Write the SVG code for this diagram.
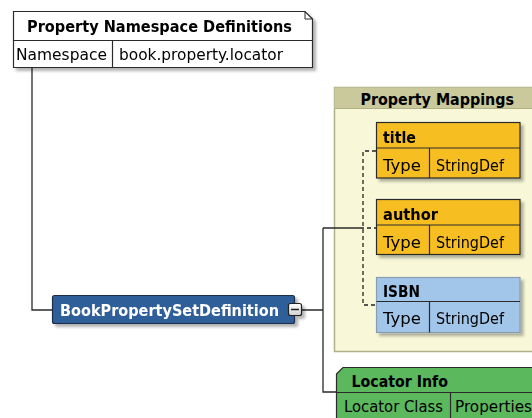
<svg xmlns="http://www.w3.org/2000/svg" width="532" height="418" viewBox="0 0 532 418">
<style>
text{font-family:"DejaVu Sans","Liberation Sans",sans-serif;fill:#000}
.b{font-weight:bold;font-size:15.5px}
.r{font-size:15px}
.box{stroke:#2a2a2a;stroke-width:1.2}
.conn{fill:none;stroke:#2a2a2a;stroke-width:1.3}
.dash{fill:none;stroke:#222;stroke-width:1.3;stroke-dasharray:4 3}
</style>
<defs>
<filter id="sh" x="-10%" y="-10%" width="130%" height="150%">
<feGaussianBlur in="SourceAlpha" stdDeviation="1.5"/>
<feOffset dx="3" dy="3" result="o"/>
<feComponentTransfer><feFuncA type="linear" slope="0.3"/></feComponentTransfer>
<feMerge><feMergeNode/><feMergeNode in="SourceGraphic"/></feMerge>
</filter>
<linearGradient id="mg" x1="0" y1="0" x2="0" y2="1"><stop offset="0" stop-color="#ffffff"/><stop offset="1" stop-color="#d0d0d0"/></linearGradient>
</defs>
<rect width="532" height="418" fill="#ffffff"/>

<g id="mappings">
<rect x="334.5" y="87.5" width="210" height="264" fill="#f8f8d8" stroke="#b0b088" stroke-width="1.5"/>
<rect x="334.5" y="87.5" width="210" height="21" fill="#c9c99b"/>
<line x1="334.5" y1="108.5" x2="544" y2="108.5" stroke="#b0b088"/>
<text class="b" x="360.5" y="105" textLength="153.5" lengthAdjust="spacingAndGlyphs">Property Mappings</text>
</g>

<g id="connectors">
<path class="conn" d="M32,67 V310 H52"/>
<path class="conn" d="M302,310 H323 M323,228 V392 H336 M323,228 H360"/>
<path class="dash" d="M376,151 H363 V305 H376 M360,228 H376"/>
</g>

<g id="nsdefs" filter="url(#sh)">
<path class="box" d="M13.5,11.5 H305 L312.5,19 V67.5 H13.5 Z" fill="#ffffff"/>
<path d="M305,11.5 V19 H312.5" fill="none" stroke="#2a2a2a" stroke-width="1"/>
<line x1="13.5" y1="40.5" x2="312.5" y2="40.5" stroke="#2a2a2a" stroke-width="1.2"/>
<line x1="112.5" y1="40.5" x2="112.5" y2="67.5" stroke="#2a2a2a" stroke-width="1.2"/>
<text class="b" x="27" y="32" textLength="265" lengthAdjust="spacingAndGlyphs">Property Namespace Definitions</text>
<text class="r" x="16" y="59.5" textLength="91" lengthAdjust="spacingAndGlyphs">Namespace</text>
<text class="r" x="119" y="59.5" textLength="164" lengthAdjust="spacingAndGlyphs">book.property.locator</text>
</g>

<g id="bookprop" filter="url(#sh)">
<rect x="52.5" y="295.5" width="242" height="28" rx="2" fill="#2f5f98" stroke="#1a2f4c" stroke-width="1.2"/>
<text class="b" x="60" y="316" textLength="219" lengthAdjust="spacingAndGlyphs" style="fill:#ffffff">BookPropertySetDefinition</text>
<rect x="288.5" y="303.5" width="13" height="12" rx="2" fill="url(#mg)" stroke="#222" stroke-width="1.2"/>
<line x1="291" y1="309.5" x2="299" y2="309.5" stroke="#222" stroke-width="1.5"/>
</g>

<g id="title" filter="url(#sh)">
<rect class="box" x="376.5" y="122.5" width="143.5" height="55.5" fill="#f7be20"/>
<line x1="376.5" y1="148" x2="520" y2="148" stroke="#2a2a2a" stroke-width="1.2"/>
<line x1="429.5" y1="148" x2="429.5" y2="178" stroke="#2a2a2a" stroke-width="1.2"/>
<text class="b" x="383" y="143" textLength="33" lengthAdjust="spacingAndGlyphs">title</text>
<text class="r" x="383" y="170.5" textLength="38" lengthAdjust="spacingAndGlyphs">Type</text>
<text class="r" x="436" y="170.5" textLength="68" lengthAdjust="spacingAndGlyphs">StringDef</text>
</g>

<g id="author" filter="url(#sh)">
<rect class="box" x="376.5" y="199.5" width="143.5" height="55" fill="#f7be20"/>
<line x1="376.5" y1="225" x2="520" y2="225" stroke="#2a2a2a" stroke-width="1.2"/>
<line x1="429.5" y1="225" x2="429.5" y2="254.5" stroke="#2a2a2a" stroke-width="1.2"/>
<text class="b" x="383" y="220" textLength="55" lengthAdjust="spacingAndGlyphs">author</text>
<text class="r" x="383" y="247.5" textLength="38" lengthAdjust="spacingAndGlyphs">Type</text>
<text class="r" x="436" y="247.5" textLength="68" lengthAdjust="spacingAndGlyphs">StringDef</text>
</g>

<g id="isbn" filter="url(#sh)">
<rect x="376.5" y="277.5" width="143.5" height="55" fill="#a2c6ea" stroke="#8a9cb0" stroke-width="1.2"/>
<line x1="376.5" y1="301.5" x2="520" y2="301.5" stroke="#2a2a2a" stroke-width="1.2"/>
<line x1="429.5" y1="301.5" x2="429.5" y2="332.5" stroke="#2a2a2a" stroke-width="1.2"/>
<text class="b" x="383" y="296.5" textLength="37" lengthAdjust="spacingAndGlyphs">ISBN</text>
<text class="r" x="383" y="324" textLength="38" lengthAdjust="spacingAndGlyphs">Type</text>
<text class="r" x="436" y="324" textLength="68" lengthAdjust="spacingAndGlyphs">StringDef</text>
</g>

<g id="locator">
<path d="M336.5,374 L343,367.5 H540 V430 H336.5 Z" fill="#5cb85c" stroke="#2a2a2a" stroke-width="1.2"/>
<line x1="336.5" y1="392.5" x2="540" y2="392.5" stroke="#2a2a2a" stroke-width="1.2"/>
<line x1="450.5" y1="392.5" x2="450.5" y2="430" stroke="#2a2a2a" stroke-width="1.2"/>
<text class="b" x="351.5" y="386.5" textLength="96.5" lengthAdjust="spacingAndGlyphs">Locator Info</text>
<text class="r" x="344" y="411.5" textLength="99" lengthAdjust="spacingAndGlyphs">Locator Class</text>
<text class="r" x="455" y="411.5" textLength="77" lengthAdjust="spacingAndGlyphs">Properties</text>
</g>
</svg>
